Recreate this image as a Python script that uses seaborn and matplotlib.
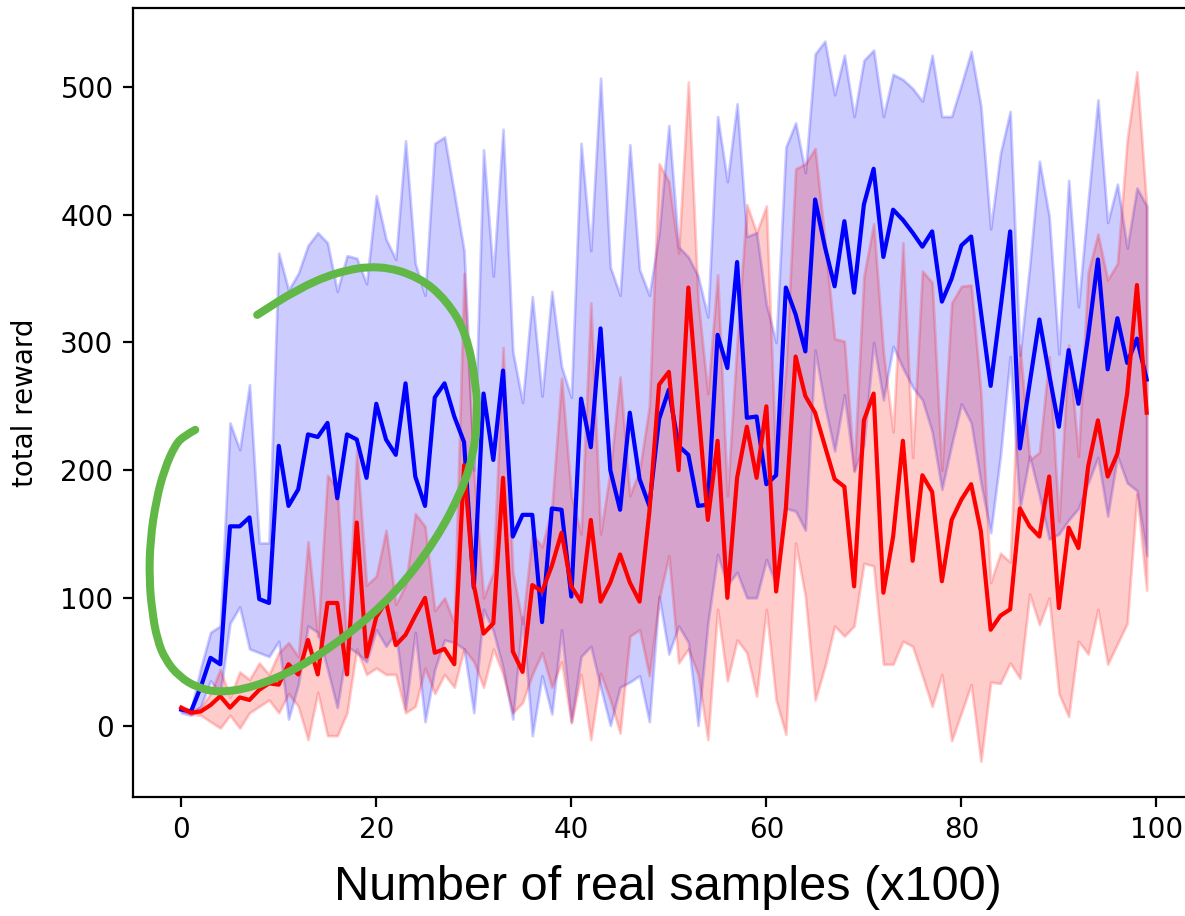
import numpy as np
import pandas as pd
import matplotlib
matplotlib.use("Agg")
import matplotlib.pyplot as plt
from matplotlib.path import Path
from matplotlib.patches import PathPatch
import seaborn as sns

# x axis: number of real samples (x100)
steps = list(range(100))

# blue run: mean and band
blue_mean = [12.5, 11, 30, 53, 48, 156, 156, 163, 99, 96,
             219, 172, 185, 228, 226, 237, 178, 228, 224, 194,
             252, 224, 212, 268, 195, 172, 257, 268, 242, 222,
             108, 260, 208, 278, 148, 165, 165, 81, 170, 169,
             101, 256, 218, 311, 200, 169, 245, 193, 172, 240,
             263, 219, 212, 172, 173, 306, 280, 363, 241, 242,
             189, 196, 343, 322, 293, 412, 375, 344, 395, 339,
             408, 436, 367, 404, 396, 386, 375, 387, 332, 350,
             376, 383, 324, 266, 326, 387, 217, 268, 318, 275,
             234, 294, 252, 305, 365, 279, 319, 284, 303, 271]
blue_high = [13, 12, 45, 73, 78, 237, 216, 267, 143, 143,
             370, 341, 354, 376, 386, 378, 340, 368, 366, 346,
             415, 381, 365, 458, 362, 337, 456, 461, 417, 372,
             200, 451, 352, 467, 293, 253, 336, 258, 340, 281,
             257, 456, 372, 507, 359, 337, 455, 357, 337, 386,
             470, 375, 367, 352, 320, 477, 426, 487, 383, 386,
             330, 300, 453, 472, 433, 526, 536, 494, 525, 477,
             521, 529, 477, 510, 506, 499, 489, 525, 477, 477,
             502, 528, 485, 389, 448, 481, 290, 360, 442, 399,
             291, 427, 328, 411, 490, 394, 424, 374, 421, 407]
blue_low = [10, 8, 15, 35, 25, 80, 93, 60, 57, 54,
            66, 5, 32, 78, 73, 44, 14, 62, 57, 50,
            75, 62, 73, 13, 73, 3, 44, 67, 65, 60,
            10, 91, 74, 45, 5, 85, -8, 39, 9, 75,
            3, 54, 62, 30, 0, 30, 34, 39, 3, 101,
            56, 78, 65, 0, 80, 134, 110, 120, 100, 100,
            130, 110, 170, 168, 153, 294, 250, 215, 259, 199,
            220, 300, 255, 297, 280, 265, 255, 230, 185, 220,
            252, 237, 190, 151, 211, 289, 170, 211, 180, 146,
            150, 161, 170, 190, 210, 164, 211, 190, 184, 133]

# red run: mean and band
red_mean = [14, 10, 11, 16, 23, 14, 22, 20, 28, 33,
            32, 48, 40, 67, 40, 96, 96, 40, 159, 54,
            85, 97, 63, 71, 86, 100, 57, 60, 48, 204,
            110, 72, 80, 194, 58, 42, 110, 105, 125, 151,
            109, 97, 161, 97, 112, 134, 112, 97, 167, 267,
            277, 200, 343, 250, 161, 223, 100, 194, 234, 194,
            250, 105, 170, 289, 258, 245, 219, 193, 187, 109,
            239, 260, 104, 148, 223, 129, 196, 183, 113, 161,
            177, 189, 152, 75, 86, 91, 170, 156, 148, 195,
            92, 155, 139, 203, 239, 195, 213, 260, 345, 245]
red_high = [15, 12, 14, 25, 44, 22, 42, 36, 49, 40,
            57, 65, 54, 144, 70, 196, 185, 60, 216, 110,
            117, 153, 95, 110, 166, 156, 90, 100, 80, 354,
            200, 100, 120, 296, 120, 80, 150, 140, 170, 272,
            180, 150, 331, 150, 200, 273, 180, 200, 250, 440,
            426, 370, 504, 333, 260, 353, 180, 300, 408, 386,
            407, 200, 280, 436, 440, 452, 380, 303, 301, 200,
            352, 393, 292, 230, 378, 210, 356, 347, 200, 331,
            344, 345, 260, 112, 135, 128, 298, 208, 214, 289,
            160, 298, 211, 355, 385, 349, 362, 459, 512, 406]
red_low = [12, 9, 8, 3, -2, 8, -2, 10, 15, 20,
           10, 25, 15, -11, 26, -8, -8, 10, 60, 40,
           45, 40, 40, 10, 15, 45, 25, 40, 30, 60,
           50, 30, 60, 40, 10, 18, 40, 57, 30, 50,
           2, 40, -11, 41, 20, -6, 70, 75, 39, 99,
           133, 49, 60, 40, -11, 91, 35, 67, 57, 23,
           91, 20, -7, 143, 101, 20, 46, 78, 70, 78,
           127, 125, 48, 48, 66, 62, 39, 15, 40, -12,
           10, 32, -28, 34, 33, 49, 37, 103, 79, 100,
           25, 7, 66, 56, 91, 48, 64, 80, 181, 106]

# hand-drawn green loop on the screenshot, in data units
green_x = [1.44, 0.31, -0.62, -1.74, -2.56, -3.18, -3.28, -2.97, -2.46, -1.64,
           -0.21, 1.64, 3.90, 7.28, 11.79, 16.92, 22.05, 26.15, 28.82, 29.95,
           30.36, 30.26, 29.23, 27.18, 24.41, 20.31, 15.90, 11.79, 7.79]
green_y = [231.6, 226.9, 219.9, 200.3, 176.8, 145.5, 114.2, 88.4, 67.3, 51.6,
           38.3, 29.7, 25.8, 29.7, 43.8, 69.6, 104.1, 145.5, 184.7, 212.1,
           239.4, 266.8, 307.5, 333.3, 351.3, 360.7, 355.2, 341.2, 321.6]

df = pd.DataFrame({"step": steps, "blue": blue_mean, "red": red_mean})

fig = plt.figure(figsize=(5.925, 4.58), dpi=200)
ax = fig.add_axes([0.1122, 0.1299, 0.8962, 0.8614])

ax.fill_between(steps, blue_low, blue_high, color="blue", alpha=0.2)
ax.fill_between(steps, red_low, red_high, color="red", alpha=0.2)
sns.lineplot(data=df, x="step", y="blue", color="blue", ax=ax, zorder=3)
sns.lineplot(data=df, x="step", y="red", color="red", ax=ax, zorder=3)

# green annotation, drawn as a smooth stroke through the read points
pts = list(zip(green_x, green_y))
verts = [pts[0]]
codes = [Path.MOVETO]
for i in range(1, len(pts) - 1):
    mid = ((pts[i][0] + pts[i + 1][0]) / 2, (pts[i][1] + pts[i + 1][1]) / 2)
    verts += [pts[i], mid]
    codes += [Path.CURVE3, Path.CURVE3]
verts.append(pts[-1])
codes.append(Path.LINETO)
stroke = PathPatch(Path(verts, codes), fill=False, edgecolor="#62b846",
                   lw=2.9, capstyle="round", joinstyle="round", zorder=5,
                   clip_on=False)
ax.add_patch(stroke)

ax.set_xlim(-4.95, 103.95)
ax.set_ylim(-56, 562)
ax.set_xticks([0, 20, 40, 60, 80, 100])
ax.set_yticks([0, 100, 200, 300, 400, 500])
ax.set_xlabel("")
ax.set_ylabel("total reward", labelpad=7.5)

fig.text(0.5637, 0.0175, "Number of real samples (x100)", ha="center",
         va="baseline", fontsize=17.5, family=["Liberation Sans", "DejaVu Sans"])

fig.savefig("out.png", dpi=200)
